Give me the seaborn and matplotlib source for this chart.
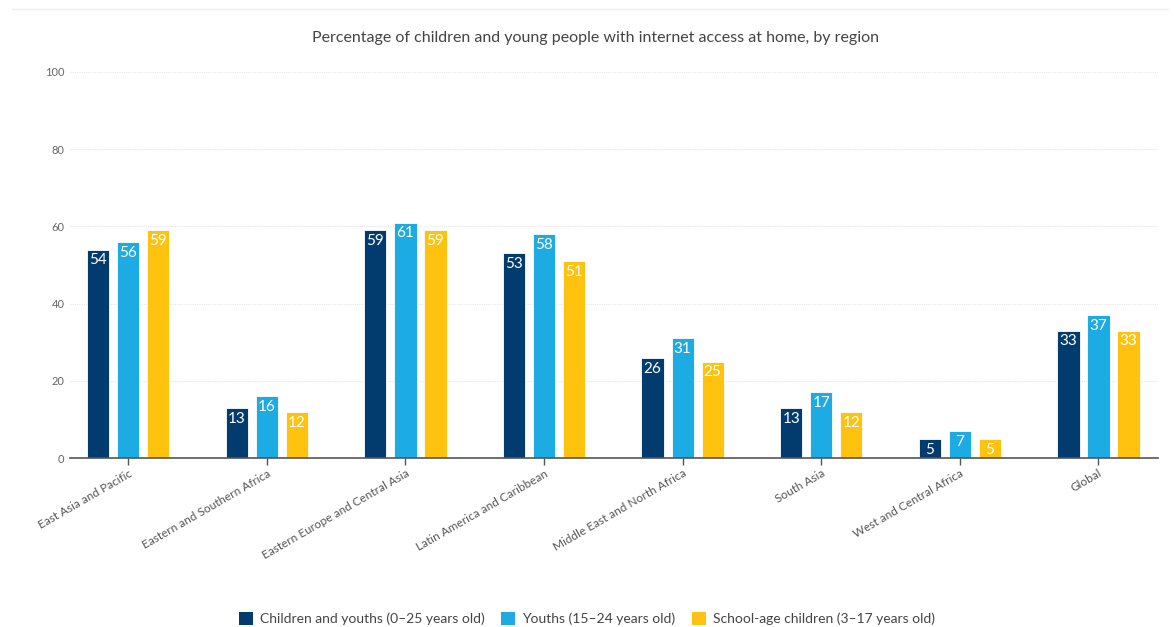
import matplotlib
matplotlib.use("Agg")
import matplotlib.pyplot as plt
import seaborn as sns
import pandas as pd
from matplotlib.patches import Patch
from matplotlib.lines import Line2D

regions = ["East Asia and Pacific", "Eastern and Southern Africa", "Eastern Europe and Central Asia",
           "Latin America and Caribbean", "Middle East and North Africa", "South Asia",
           "West and Central Africa", "Global"]
children_youths = [54, 13, 59, 53, 26, 13, 5, 33]
youths = [56, 16, 61, 58, 31, 17, 7, 37]
school_age = [59, 12, 59, 51, 25, 12, 5, 33]
series_names = ["Children and youths (0–25 years old)", "Youths (15–24 years old)",
                "School-age children (3–17 years old)"]
colors = ["#023B6E", "#1CABE2", "#FFC20E"]
title = "Percentage of children and young people with internet access at home, by region"
yticks = [0, 20, 40, 60, 80, 100]

rows = []
for name, vals in zip(series_names, [children_youths, youths, school_age]):
    for r, v in zip(regions, vals):
        rows.append({"region": r, "series": name, "value": v})
df = pd.DataFrame(rows)

sns.set_theme(style="white")
plt.rcParams["font.family"] = ["Lato", "DejaVu Sans"]

fig = plt.figure(figsize=(11.74, 6.27), dpi=100)
ax = fig.add_axes([0.0596, 0.2695, 0.9268, 0.6157])

sns.barplot(data=df, x="region", y="value", hue="series", order=regions, hue_order=series_names,
            palette=colors, width=0.65, gap=0.26, ax=ax, legend=False, saturation=1,
            edgecolor="white", linewidth=0.6)

for cont in ax.containers:
    for bar in cont:
        h = bar.get_height()
        ax.text(bar.get_x() + bar.get_width() / 2, h - 1.0, f"{int(round(h))}", ha="center", va="top",
                color="white", fontsize=11)

ax.set_ylim(0, 100)
ax.set_xlim(-0.42, 7.43)
ax.set_yticks(yticks)
ax.set_yticklabels([str(t) for t in yticks], fontsize=8, color="#666666")
ax.yaxis.grid(True, color="#e6e6e6", linestyle=(0, (1, 1)), linewidth=0.8)
ax.set_axisbelow(True)
ax.set_xlabel("")
ax.set_ylabel("")
for s in ["top", "right", "left"]:
    ax.spines[s].set_visible(False)
ax.spines["bottom"].set_color("#555555")
ax.spines["bottom"].set_linewidth(1.2)
ax.tick_params(axis="x", bottom=True, length=5, width=1, color="#555555", pad=2)
ax.tick_params(axis="y", left=False, length=0, pad=4)
ax.set_xticks(range(len(regions)))
ax.set_xticklabels(regions, rotation=30, ha="right", rotation_mode="anchor", fontsize=8.5, color="#555555")

fig.text(0.507, 0.94, title, ha="center", va="center", fontsize=11.5, color="#444444")
fig.add_artist(Line2D([0.01, 0.995], [0.985, 0.985], color="#eeeeee", linewidth=1, transform=fig.transFigure))

handles = [Patch(facecolor=c, edgecolor="none", label=n) for c, n in zip(colors, series_names)]
fig.legend(handles=handles, loc="center", bbox_to_anchor=(0.5, 0.013), ncol=3, frameon=False,
           fontsize=10, handlelength=1.0, handleheight=1.0, columnspacing=1.2, handletextpad=0.5,
           labelcolor="#444444")

fig.savefig("out.png", dpi=100)
